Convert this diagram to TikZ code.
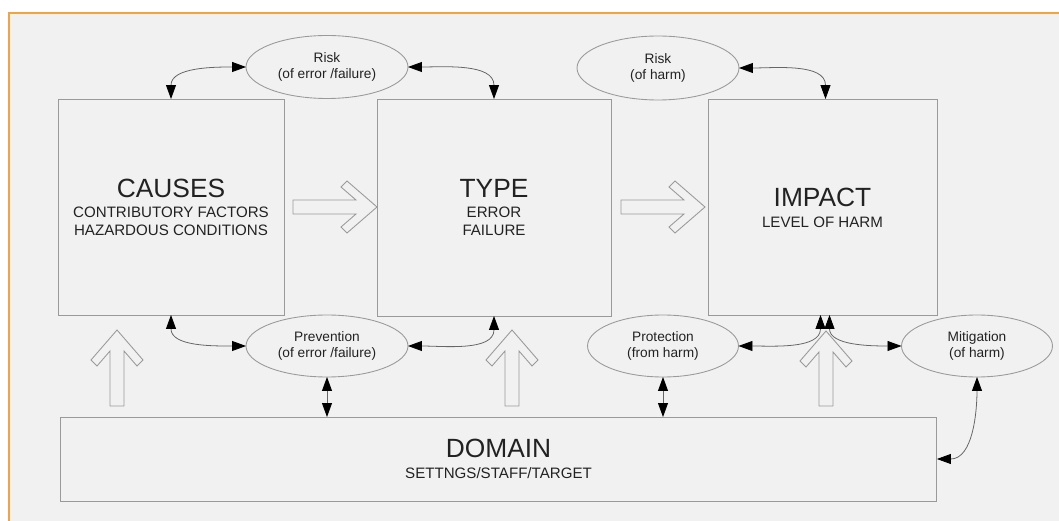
\documentclass[tikz,border=0pt]{standalone}
\usepackage{fontspec}
\setmainfont{Liberation Sans}
\usetikzlibrary{arrows.meta, shapes.geometric, calc}

\definecolor{panelgray}{HTML}{F1F1F1}
\definecolor{frameorange}{HTML}{F5A33B}
\definecolor{linegray}{HTML}{9A9A9A}
\definecolor{inkgray}{HTML}{222222}

\begin{document}
\begin{tikzpicture}[x=0.02cm,y=0.02cm,
		box/.style={draw=linegray, line width=0.5pt, inner sep=0pt, outer sep=0pt},
		bubble/.style={ellipse, draw=linegray, line width=0.5pt, inner sep=0pt, outer sep=0pt,
				align=center, text=inkgray, font=\fontsize{7.8}{8.8}\selectfont},
		headtxt/.style={text=inkgray, font=\fontsize{15}{17}\selectfont},
		subtxt/.style={text=inkgray, align=center, font=\fontsize{8.6}{10.2}\selectfont},
		link/.style={draw=black!60, line width=0.45pt, >={Triangle[length=2.8mm,width=2mm,color=black]}, <->},
		pics/fatarrow/.style={code={
					\draw[linegray, line width=0.5pt, fill=panelgray] (0,0) -- (-30,26) -- (-36,20) -- (-21,7) -- (-#1,7)
					-- (-#1,-7) -- (-21,-7) -- (-36,-20) -- (-30,-26) -- cycle;
				}}]
			% page and frame
			\fill[white] (0,0) rectangle (1059,521);
			\useasboundingbox (0,0) rectangle (1059,521);
			\fill[panelgray] (9,0) rectangle (1059,508);
			\draw[frameorange, line width=1.2pt] (9,0) -- (9,508) -- (1059,508);

			% main boxes
			\node[box, minimum width=4.52cm, minimum height=4.32cm] (causes) at (171,314) {};
			\node[box, minimum width=4.68cm, minimum height=4.34cm] (type) at (494,313.5) {};
			\node[box, minimum width=4.58cm, minimum height=4.32cm] (impact) at (822.5,314) {};
			\node[box, minimum width=17.54cm, minimum height=1.68cm] (domain) at (498.5,62) {};

			\node[headtxt] (causestitle) at (171,332.5) {CAUSES};
			\node[subtxt] (causessub) at (171,300) {CONTRIBUTORY FACTORS\\HAZARDOUS CONDITIONS};
			\node[headtxt] (typetitle) at (494,332.5) {TYPE};
			\node[subtxt] (typesub) at (494,300) {ERROR\\FAILURE};
			\node[headtxt] (impacttitle) at (822.5,324) {IMPACT};
			\node[subtxt] (impactsub) at (822.5,299) {LEVEL OF HARM};
			\node[headtxt] (domaintitle) at (498.5,73) {DOMAIN};
			\node[subtxt] (domainsub) at (498.5,48) {SETTNGS/STAFF/TARGET};

			% ellipses
			\node[bubble, minimum width=3.24cm, minimum height=1.26cm] (riskerr) at (327,454) {Risk\\(of error /failure)};
			\node[bubble, minimum width=3.24cm, minimum height=1.28cm] (riskharm) at (658,453) {Risk\\(of harm)};
			\node[bubble, minimum width=3.24cm, minimum height=1.24cm] (preverr) at (327,175) {Prevention\\(of error /failure)};
			\node[bubble, minimum width=3.02cm, minimum height=1.24cm] (protect) at (663,175) {Protection\\(from harm)};
			\node[bubble, minimum width=3.02cm, minimum height=1.24cm] (mitig) at (977,175) {Mitigation\\(of harm)};

			% hollow arrows
			\pic at (377,314) {fatarrow=84};
			\pic at (705,314) {fatarrow=84};
			\pic[rotate=90] at (117,191) {fatarrow=76};
			\pic[rotate=90] at (512,191) {fatarrow=76};
			\pic[rotate=90] at (826,190) {fatarrow=75};

			% two-way links
			\draw[link] (causes.north) to[out=90, in=180] (riskerr.west);
			\draw[link] (riskerr.east) to[out=0, in=90] (type.north);
			\draw[link] (riskharm.east) to[out=0, in=90] ([xshift=0.06cm]impact.north);
			\draw[link] (causes.south) to[out=-90, in=180] (preverr.west);
			\draw[link] (preverr.east) to[out=0, in=-90] (type.south);
			\draw[link] (preverr.south) -- (preverr.south |- domain.north);
			\draw[link] (protect.east) to[out=0, in=-90] ([xshift=-0.04cm]impact.south);
			\draw[link] (protect.south) -- (protect.south |- domain.north);
			\draw[link] (mitig.west) to[out=180, in=-90] ([xshift=0.14cm]impact.south);
			\draw[link] (domain.east) to[out=0, in=-90] (mitig.south);
		\end{tikzpicture}
\end{document}
